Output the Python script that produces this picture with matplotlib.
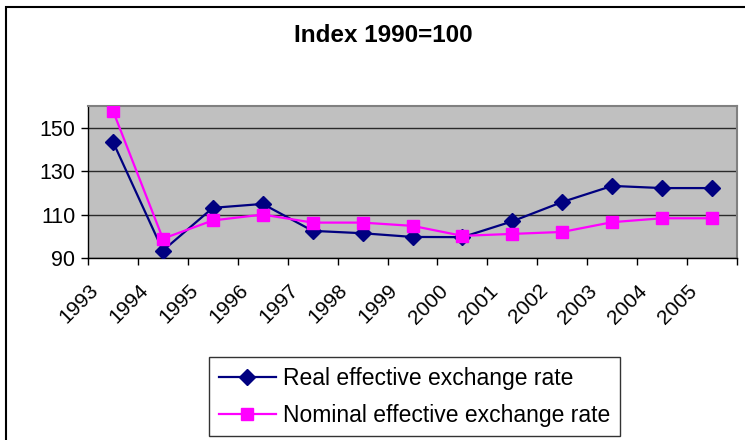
import matplotlib
matplotlib.use("Agg")
import matplotlib.pyplot as plt
from matplotlib.patches import Rectangle
import matplotlib.transforms as mtransforms

years = ["1993", "1994", "1995", "1996", "1997", "1998", "1999",
         "2000", "2001", "2002", "2003", "2004", "2005"]
real_eer = [143.5, 93.4, 113.1, 114.9, 102.5, 101.4, 99.7,
            99.6, 106.9, 115.8, 123.2, 122.2, 122.2]
nominal_eer = [157.8, 98.9, 107.3, 110.0, 106.3, 106.3, 104.8,
               100.2, 101.1, 102.0, 106.5, 108.3, 108.3]
yticks = [90, 110, 130, 150]

plt.rcParams['font.family'] = ['Liberation Sans', 'DejaVu Sans']

W, H = 745, 440
fig = plt.figure(figsize=(W / 100, H / 100), dpi=100)

# outer chart frame
fig.patches.append(Rectangle((6 / W, 0 - 0.01), 1.02, 1 - 7 / H + 0.01,
                             transform=fig.transFigure, fill=False,
                             edgecolor='black', linewidth=1.5, zorder=0))

ax = fig.add_axes([88 / W, 1 - 258 / H, (737 - 88) / W, (258 - 106) / H])
ax.set_facecolor('#C0C0C0')

x = list(range(len(years)))
ax.plot(x, real_eer, color='#000080', marker='D', markersize=8.5,
        linewidth=1.6, label='Real effective exchange rate', zorder=3)
ax.plot(x, nominal_eer, color='#FF00FF', marker='s', markersize=8.5,
        linewidth=1.6, label='Nominal effective exchange rate', zorder=3)

ax.set_xlim(-0.5, len(years) - 0.5)
ax.set_ylim(90, 160)
ax.set_yticks(yticks)
ax.set_yticklabels([str(v) for v in yticks], fontsize=15.5)
ax.yaxis.grid(True, color='#2a2a2a', linewidth=1)
ax.set_axisbelow(True)

# category boundary ticks
ax.set_xticks([i - 0.5 for i in range(len(years) + 1)], minor=False)
ax.set_xticklabels([])
ax.tick_params(axis='x', direction='out', length=5, width=1, color='black')
ax.tick_params(axis='y', direction='out', length=5, width=1, color='black', pad=4)

offset = mtransforms.ScaledTranslation(-11 / 100, -23 / 100, fig.dpi_scale_trans)
for i, yr in enumerate(years):
    ax.text(i, 0, yr, transform=ax.get_xaxis_transform() + offset,
            rotation=45, ha='right', va='top', fontsize=15)

for side in ['top', 'right']:
    ax.spines[side].set_color('#808080')
    ax.spines[side].set_linewidth(1.5)
for side in ['left', 'bottom']:
    ax.spines[side].set_color('black')
    ax.spines[side].set_linewidth(1)

fig.text(383 / W, 1 - 35 / H, 'Index 1990=100', ha='center', va='center',
         fontsize=17.5, fontweight='bold')

leg = fig.legend(loc='upper left', bbox_to_anchor=(209 / W, 1 - 357 / H),
                 bbox_transform=fig.transFigure, fontsize=16.5, frameon=True,
                 fancybox=False, shadow=False, handlelength=2.5,
                 borderpad=0.42, labelspacing=0.62, handletextpad=0.3,
                 borderaxespad=0)
leg.get_frame().set_edgecolor('black')
leg.get_frame().set_linewidth(1)

fig.savefig('out.png', dpi=100)
